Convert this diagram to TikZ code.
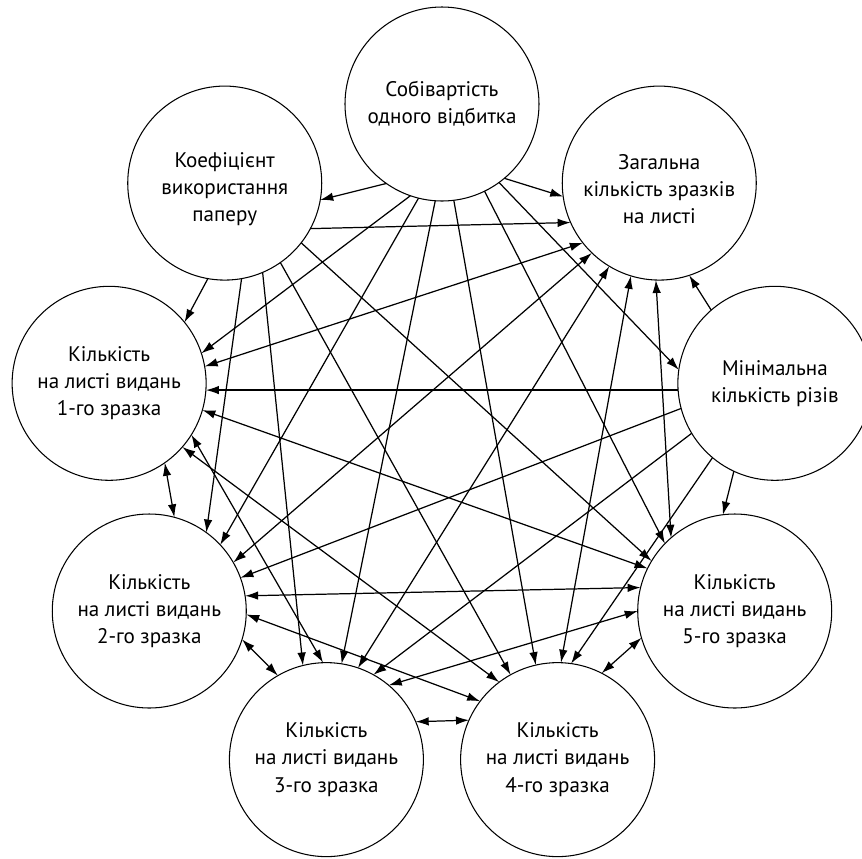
\documentclass[tikz,border=0pt]{standalone}
\usepackage{fontspec}
\setmainfont{PT Sans}
\usetikzlibrary{arrows.meta}

\begin{document}
\begin{tikzpicture}[cirnode/.style={circle, draw=black, line width=0.6pt, minimum size=3.88cm, inner sep=0pt, outer sep=0pt, align=center, font=\fontsize{12}{15.4}\selectfont}, link/.style={line width=0.7pt}, >={Latex[length=2.6mm,width=1.7mm]}]
	\useasboundingbox (-8.84,-8.32) rectangle (8.40,8.84);
	\node[cirnode] (cost) at (90:6.76) {Собівартість\\одного відбитка};
	\node[cirnode] (total) at (50:6.76) {\rule{0pt}{15pt}Загальна\\кількість зразків\\на листі};
	\node[cirnode] (cuts) at (10:6.76) {Мінімальна\\кількість різів};
	\node[cirnode] (ed5) at (-30:6.76) {Кількість\\на листі видань\\5-го зразка};
	\node[cirnode] (ed4) at (-70:6.76) {Кількість\\на листі видань\\4-го зразка};
	\node[cirnode] (ed3) at (-110:6.76) {Кількість\\на листі видань\\3-го зразка};
	\node[cirnode] (ed2) at (-150:6.76) {Кількість\\на листі видань\\2-го зразка};
	\node[cirnode] (ed1) at (170:6.76) {Кількість\\на листі видань\\1-го зразка};
	\node[cirnode] (paper) at (130:6.76) {\rule{0pt}{15pt}Коефіцієнт\\використання\\паперу};
	\draw[link,->] (cost.235) -- (paper.350);
	\draw[link,->] (cost.310.5) -- (total.188);
	\draw[link,->] (cost.306.3) -- (cuts.172.3);
	\draw[link,->] (cost.251) -- (ed1.18.8);
	\draw[link,->] (cost.256) -- (ed2.43.2);
	\draw[link,->] (cost.266) -- (ed3.81.5);
	\draw[link,->] (cost.277.7) -- (ed4.103);
	\draw[link,->] (cost.296) -- (ed5.136.8);
	\draw[link,->] (paper.332.8) -- (total.204.1);
	\draw[link,->] (paper.260.2) -- (ed1.39.3);
	\draw[link,->] (paper.280.1) -- (ed2.54.7);
	\draw[link,->] (paper.293.6) -- (ed3.104.8);
	\draw[link,->] (paper.305) -- (ed4.119);
	\draw[link,->] (paper.322.2) -- (ed5.149.4);
	\draw[link,->] (cuts.131.5) -- (total.288.8);
	\draw[link,->] (cuts.184) -- (ed1.356);
	\draw[link,->] (cuts.195.7) -- (ed2.20.2);
	\draw[link,->] (cuts.211) -- (ed3.61.9);
	\draw[link,->] (cuts.230) -- (ed4.82);
	\draw[link,->] (cuts.245) -- (ed5.97);
	\draw[link,<->] (total.218.7) -- (ed1.10.6);
	\draw[link,<->] (total.226) -- (ed2.30.8);
	\draw[link,<->] (total.239.5) -- (ed3.71.4);
	\draw[link,<->] (total.253.2) -- (ed4.88);
	\draw[link,<->] (total.268.7) -- (ed5.131);
	\draw[link,<->] (ed1.305.1) -- (ed2.75);
	\draw[link,<->] (ed1.328.1) -- (ed3.92.6);
	\draw[link,<->] (ed1.319.4) -- (ed4.127.5);
	\draw[link,<->] (ed1.344.4) -- (ed5.154.9);
	\draw[link,<->] (ed2.343.1) -- (ed3.120.4);
	\draw[link,<->] (ed2.358.8) -- (ed4.143.3);
	\draw[link,<->] (ed2.9) -- (ed5.166.8);
	\draw[link,<->] (ed3.23.6) -- (ed4.156.4);
	\draw[link,<->] (ed3.50.7) -- (ed5.180);
	\draw[link,<->] (ed4.63.9) -- (ed5.196.2);
\end{tikzpicture}
\end{document}
